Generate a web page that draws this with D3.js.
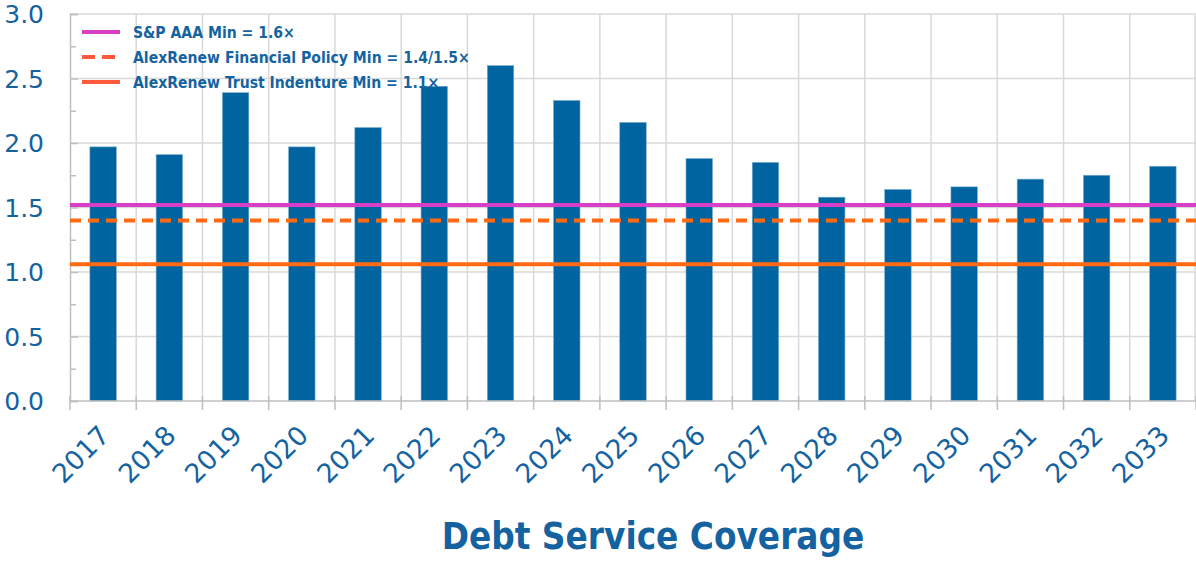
<!DOCTYPE html>
<html><head><meta charset="utf-8">
<script src="https://cdn.jsdelivr.net/npm/d3@7"></script>
<style>body{margin:0;background:#fff}svg{display:block}</style>
</head><body>
<svg id="c" width="1196" height="562"></svg>
<script>
const years = ["2017","2018","2019","2020","2021","2022","2023","2024","2025","2026","2027","2028","2029","2030","2031","2032","2033"];
const coverage = [1.97,1.91,2.39,1.97,2.12,2.44,2.60,2.33,2.16,1.88,1.85,1.58,1.64,1.66,1.72,1.75,1.82];
const refNames = ["S&P AAA Min = 1.6×","AlexRenew Financial Policy Min = 1.4/1.5×","AlexRenew Trust Indenture Min = 1.1×"];
const refValues = [1.52,1.40,1.06];
const refColors = ["#d63fc6","#ff6a13","#ff6a13"];
const legendColors = ["#d63fc6","#ff5a3c","#ff5a3c"];
const refDash = [null,"11,7",null];
const yTicks = [0,0.5,1,1.5,2,2.5,3];

const svg = d3.select("#c");
const blue = "#0064a1", txt = "#1463a0";
const m = {l:70, r:1196, t:14, b:401};
const x = d3.scaleBand().domain(years).range([m.l, m.r]).paddingInner(0.6).paddingOuter(0.3);
const xb = d3.scaleBand().domain(years).range([m.l, m.r]);
const y = d3.scaleLinear().domain([0,3]).range([m.b, m.t]);

// grid
const g = svg.append("g");
g.selectAll(".hg").data(yTicks.slice(1)).join("line")
 .attr("x1", m.l).attr("x2", m.r).attr("y1", d=>y(d)).attr("y2", d=>y(d))
 .attr("stroke","#d9d9d9").attr("stroke-width",1.5);
g.selectAll(".vg").data(years.slice(1)).join("line")
 .attr("x1", d=>xb(d)).attr("x2", d=>xb(d)).attr("y1", m.t).attr("y2", m.b)
 .attr("stroke","#d9d9d9").attr("stroke-width",1.5);
g.append("line").attr("x1",m.r-1).attr("x2",m.r-1).attr("y1",m.t).attr("y2",m.b).attr("stroke","#d9d9d9").attr("stroke-width",1.5);

// y axis
const ya = svg.append("g").attr("transform",`translate(${m.l},0)`)
 .call(d3.axisRight(y).tickValues(d3.range(0,3.01,0.25)).tickSize(8).tickFormat(""));
ya.select(".domain").attr("stroke","#bfbfbf").attr("stroke-width",1.5);
ya.selectAll(".tick line").attr("stroke","#bfbfbf").attr("stroke-width",1.5).attr("x2",(d,i)=>i%2?6:8);
svg.selectAll(".ylab").data(yTicks).join("text")
 .attr("x",44).attr("y",d=>y(d)+9).attr("text-anchor","end")
 .attr("font-family","DejaVu Sans").attr("font-size",25).attr("fill",txt)
 .text(d=>d.toFixed(1));

// bars
svg.selectAll(".bar").data(coverage).join("rect")
 .attr("x",(d,i)=>x(years[i])).attr("width",x.bandwidth())
 .attr("y",d=>y(d)).attr("height",d=>y(0)-y(d))
 .attr("fill",blue).attr("stroke","#7fb0d0").attr("stroke-width",0.6);

// x axis
const xa = svg.append("g").attr("transform",`translate(0,${m.b})`);
xa.append("line").attr("x1",m.l).attr("x2",m.r).attr("stroke","#bfbfbf").attr("stroke-width",1.5);
xa.selectAll(".xt").data(years.concat(["end"])).join("line")
 .attr("x1",(d,i)=>i<years.length?xb(d):m.r).attr("x2",(d,i)=>i<years.length?xb(d):m.r)
 .attr("y1",-5).attr("y2",9).attr("stroke","#bfbfbf").attr("stroke-width",1.5);
svg.selectAll(".xlab").data(years).join("text")
 .attr("transform",d=>`translate(${xb(d)+xb.bandwidth()/2+8},${m.b+36}) rotate(-45)`)
 .attr("text-anchor","end")
 .attr("font-family","DejaVu Sans").attr("font-size",26.5).attr("fill",txt)
 .text(d=>d);

// reference lines
svg.selectAll(".ref").data(refValues).join("line")
 .attr("x1",m.l).attr("x2",m.r).attr("y1",d=>y(d)).attr("y2",d=>y(d))
 .attr("stroke",(d,i)=>refColors[i]).attr("stroke-width",4)
 .attr("stroke-dasharray",(d,i)=>refDash[i]);

// legend
const lg = svg.append("g");
refNames.forEach((n,i)=>{
  const yy = 32 + i*25;
  lg.append("line").attr("x1",82).attr("x2",120).attr("y1",yy).attr("y2",yy)
    .attr("stroke",legendColors[i]).attr("stroke-width",4).attr("stroke-dasharray",refDash[i]?"13,7":null);
  lg.append("text").attr("x",133).attr("y",yy+5.5).attr("font-family","DejaVu Sans Condensed").attr("font-weight","bold")
    .attr("font-size",15.6).attr("fill",txt).text(n);
});

// title
svg.append("text").attr("x",653).attr("y",549).attr("text-anchor","middle")
 .attr("font-family","DejaVu Sans Condensed").attr("font-weight","bold")
 .attr("font-size",36.5).attr("fill",txt).text("Debt Service Coverage");
</script>
</body></html>
